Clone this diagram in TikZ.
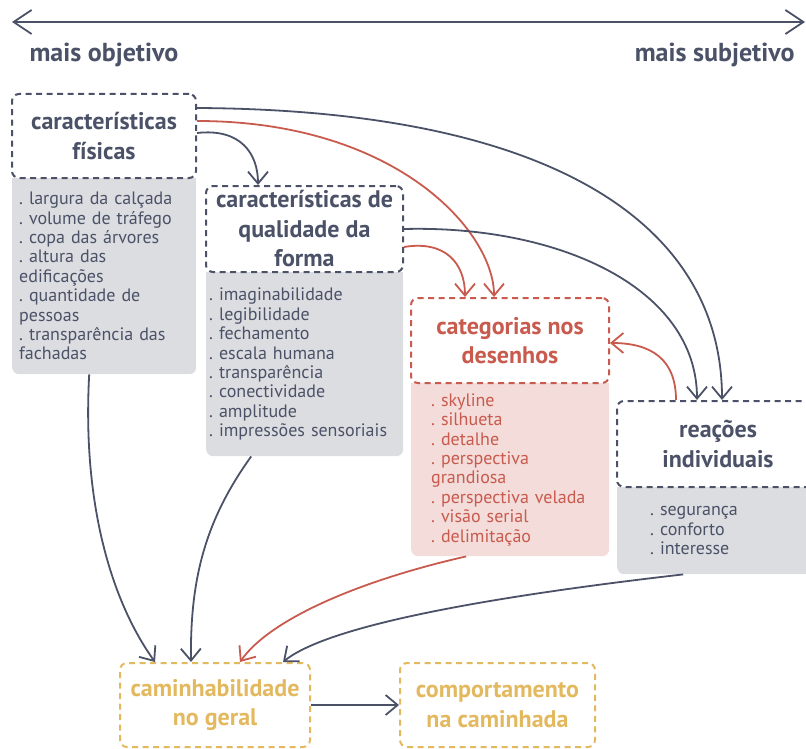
\documentclass[tikz,border=0pt]{standalone}
\usepackage{fontspec}
\setmainfont{PT Sans}
\frenchspacing
\usetikzlibrary{arrows.meta}

\definecolor{slate}{HTML}{4B5267}
\definecolor{brick}{HTML}{C85A4E}
\definecolor{mustard}{HTML}{E3B95F}
\definecolor{greyfill}{HTML}{DCDDE1}
\definecolor{pinkfill}{HTML}{F3DCD9}

\begin{document}
\begin{tikzpicture}[x=1pt, y=-1pt,
    tbox/.style={draw=#1, text=#1, dash pattern=on 6pt off 4.5pt, line width=2pt, rounded corners=7pt,
      align=center, inner sep=0pt, font=\bfseries\fontsize{24}{29.5}\selectfont},
    lbox/.style={fill=#1, rounded corners=7pt, align=left, anchor=north west, inner ysep=0pt,
      font=\fontsize{18}{19.4}\selectfont},
    con/.style={draw=#1, line width=1.8pt, -{Straight Barb[length=12pt,width=20pt]}},
    side/.style={text=slate, font=\bfseries\fontsize{26}{30}\selectfont}]

    \useasboundingbox (0,0) rectangle (806,749);

    % scale at the top
    \coordinate (lft) at (12,22);
    \coordinate (rgt) at (805,22);
    \draw[slate, line width=1.8pt, {Straight Barb[length=18pt,width=24pt]}-{Straight Barb[length=18pt,width=24pt]}] (lft) -- (rgt);
    \node[side, anchor=west] (obj) at (26,55) {mais objetivo};
    \node[side, anchor=east] (subj) at (798,55) {mais subjetivo};

    % lists
    \node[lbox=greyfill, text=slate, text width=170pt, inner xsep=7pt, minimum height=196pt] (fisl) at (12,178)
      {. largura da calçada\\. volume de tráfego\\. copa das árvores\\. altura das\\edificações\\. quantidade de\\pessoas\\. transparência das\\fachadas};
    \node[lbox=greyfill, text=slate, text width=191pt, inner xsep=3pt, minimum height=184pt] (qual) at (206,272)
      {. imaginabilidade\\. legibilidade\\. fechamento\\. escala humana\\. transparência\\. conectividade\\. amplitude\\. impressões sensoriais};
    \node[lbox=pinkfill, text=brick, text width=158pt, inner xsep=20pt, minimum height=173pt] (catl) at (411,383)
      {. skyline\\. silhueta\\. detalhe\\. perspectiva\\grandiosa\\. perspectiva velada\\. visão serial\\. delimitação};
    \node[lbox=greyfill, text=slate, text width=136pt, inner xsep=33pt, minimum height=87pt] (real) at (617,487)
      {. segurança\\. conforto\\. interesse};
    \fill[greyfill] (fisl.north west) rectangle ([yshift=-10pt]fisl.north east);
    \fill[greyfill] (qual.north west) rectangle ([yshift=-10pt]qual.north east);
    \fill[pinkfill] (catl.north west) rectangle ([yshift=-10pt]catl.north east);
    \fill[greyfill] (real.north west) rectangle ([yshift=-10pt]real.north east);

    % titles
    \node[tbox=slate, minimum width=184pt, minimum height=84pt] (fis) at (104,136) {características\\físicas};
    \node[tbox=slate, minimum width=197pt, minimum height=86pt] (qua) at (304.5,229) {características de\\qualidade da\\forma};
    \node[tbox=brick, minimum width=198pt, minimum height=85pt] (cat) at (510,340.5) {categorias nos\\desenhos};
    \node[tbox=slate, minimum width=202pt, minimum height=86pt] (rea) at (718,444) {reações\\individuais};
    \node[tbox=mustard, minimum width=190pt, minimum height=84pt] (cam) at (215,705) {caminhabilidade\\no geral};
    \node[tbox=mustard, minimum width=195pt, minimum height=84pt] (com) at (497.5,705) {comportamento\\na caminhada};

    % connectors
    \draw[con=slate] ([yshift=28pt]fis.east) .. controls +(364,2) and +(0,-171) .. ([xshift=4pt]rea.north);
    \draw[con=brick] ([yshift=15pt]fis.east) .. controls +(200,0) and +(0,-65) .. ([xshift=-16pt]cat.north);
    \draw[con=slate] ([yshift=3pt]fis.east) .. controls +(44,-5) and +(0,-31) .. ([xshift=-46.5pt]qua.north);
    \draw[con=slate] (qua.east) .. controls +(157,-4) and +(0,-111) .. ([xshift=-21pt]rea.north);
    \draw[con=brick] ([yshift=-18pt]qua.east) .. controls +(42,-7) and +(0,-33) .. ([xshift=-45pt]cat.north);
    \draw[con=brick] ([xshift=-42pt]rea.north) .. controls +(0,-41) and +(41,0) .. ([yshift=-2.5pt]cat.east);
    \draw[con=slate] ([xshift=-15pt]fisl.south) .. controls +(-7,126) and +(-45,-63) .. ([xshift=-60pt]cam.north);
    \draw[con=slate] ([xshift=-53.5pt]qual.south) .. controls +(-46,64) and +(-1,-83) .. ([xshift=-24pt]cam.north);
    \draw[con=brick] ([xshift=-44pt]catl.south) .. controls +(-106,24) and +(30,-43) .. ([xshift=25pt]cam.north);
    \draw[con=slate] ([xshift=-35pt]real.south) .. controls +(-183,21) and +(47,-38) .. ([xshift=68pt]cam.north);
    \draw[con=slate] (cam.east) -- (com.west);
\end{tikzpicture}
\end{document}
